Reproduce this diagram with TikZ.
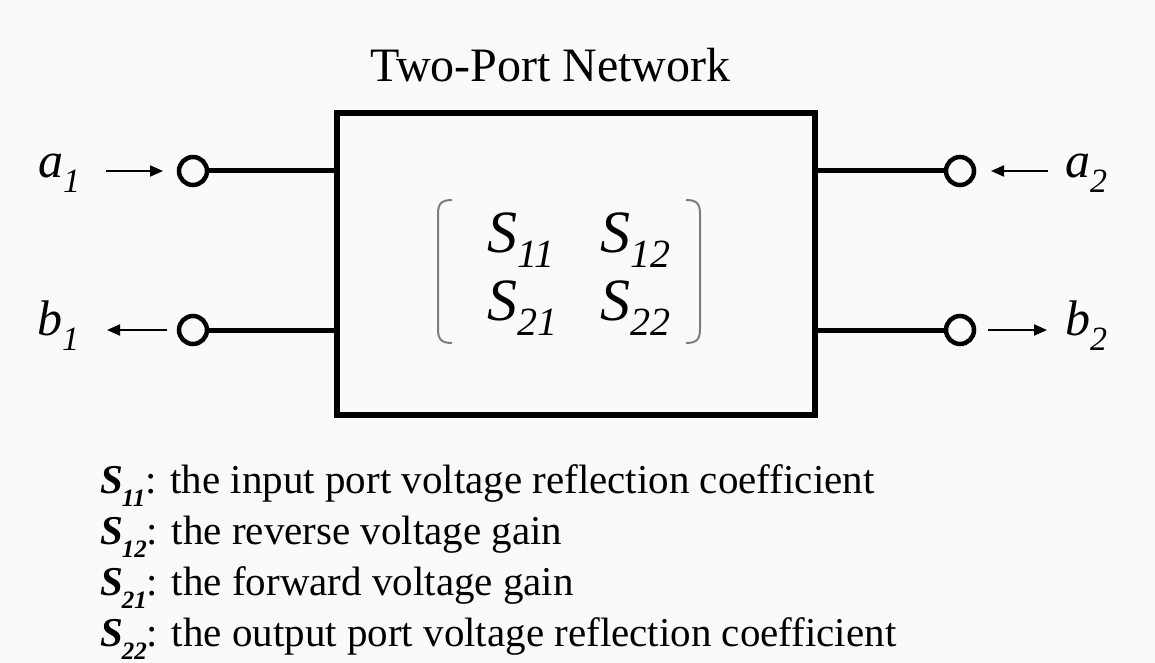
\documentclass[tikz,border=0pt]{standalone}
\usepackage{fontspec}
\setmainfont{Liberation Serif}
\usetikzlibrary{arrows.meta}
\definecolor{bgcol}{RGB}{250,250,250}
\definecolor{brkgray}{RGB}{125,125,125}
\begin{document}
\begin{tikzpicture}[x=1pt,y=-1pt,
  port/.style={circle,draw,line width=4.5pt,minimum size=28pt,inner sep=0pt,outer sep=0pt},
  wire/.style={line width=5pt},
  sig/.style={line width=2pt,-{Triangle[length=13pt,width=11pt]}},
  lbl/.style={anchor=base west,inner sep=0pt,outer sep=0pt},
  brk/.style={draw=brkgray,line width=2pt},
  netbox/.style={draw,line width=5.5pt,minimum width=478pt,minimum height=302pt,inner sep=0pt,outer sep=0pt}]
\fill[bgcol] (0,0) rectangle (1155,663);
\useasboundingbox (0,0) rectangle (1155,663);

% title
\node[lbl] (title) at (370,82) {\fontsize{48}{48}\selectfont Two-Port Network};

% network box
\node[netbox] (net) at (576,264) {};

% ports
\node[port] (c1) at (193,171) {};
\node[port] (c2) at (193,330) {};
\node[port] (c3) at (960,171) {};
\node[port] (c4) at (960,330) {};

\coordinate (w1) at (net.west |- c1);
\coordinate (w2) at (net.west |- c2);
\coordinate (w3) at (net.east |- c3);
\coordinate (w4) at (net.east |- c4);
\draw[wire] (c1) -- (w1);
\draw[wire] (c2) -- (w2);
\draw[wire] (c3) -- (w3);
\draw[wire] (c4) -- (w4);

% wave labels
\node[lbl] (la1) at (38,177) {\fontsize{50}{50}\selectfont\textit{a}\raisebox{-15pt}{\fontsize{34}{34}\selectfont\textit{1}}};
\node[lbl] (lb1) at (37,335) {\fontsize{50}{50}\selectfont\textit{b}\raisebox{-15pt}{\fontsize{34}{34}\selectfont\textit{1}}};
\node[lbl] (la2) at (1065,177) {\fontsize{50}{50}\selectfont\textit{a}\raisebox{-15pt}{\fontsize{34}{34}\selectfont\textit{2}}};
\node[lbl] (lb2) at (1065,335) {\fontsize{50}{50}\selectfont\textit{b}\raisebox{-15pt}{\fontsize{34}{34}\selectfont\textit{2}}};

% signal arrows
\coordinate (a1s) at (106,171); \coordinate (a1e) at (163,171);
\coordinate (b1s) at (167,330); \coordinate (b1e) at (107,330);
\coordinate (a2s) at (1048,171); \coordinate (a2e) at (991,171);
\coordinate (b2s) at (988,330); \coordinate (b2e) at (1047,330);
\draw[sig] (a1s) -- (a1e);
\draw[sig] (b1s) -- (b1e);
\draw[sig] (a2s) -- (a2e);
\draw[sig] (b2s) -- (b2e);

% matrix
\node[lbl] (s11) at (487,252) {\fontsize{60}{60}\selectfont\textit{S}\raisebox{-15pt}{\fontsize{40}{40}\selectfont\textit{11}}};
\node[lbl] (s12) at (600,252) {\fontsize{60}{60}\selectfont\textit{S}\raisebox{-15pt}{\fontsize{40}{40}\selectfont\textit{12}}};
\node[lbl] (s21) at (487,320) {\fontsize{60}{60}\selectfont\textit{S}\raisebox{-15pt}{\fontsize{40}{40}\selectfont\textit{21}}};
\node[lbl] (s22) at (600,320) {\fontsize{60}{60}\selectfont\textit{S}\raisebox{-15pt}{\fontsize{40}{40}\selectfont\textit{22}}};
\draw[brk] (452,200) .. controls (441,200) and (438,204) .. (438,214) -- (438,329) .. controls (438,339) and (441,343) .. (452,343);
\draw[brk] (686,200) .. controls (697,200) and (700,204) .. (700,214) -- (700,329) .. controls (700,339) and (697,343) .. (686,343);

% definitions
\newcommand{\Sdef}[1]{{\bfseries\itshape S}\kern-1pt\raisebox{-13pt}{\fontsize{25}{25}\selectfont\bfseries\itshape #1}}
\node[lbl] (d1) at (100,493) {\fontsize{41}{41}\selectfont\Sdef{11}: the input port voltage reflection coefficient};
\node[lbl] (d2) at (100,544) {\fontsize{41}{41}\selectfont\Sdef{12}: the reverse voltage gain};
\node[lbl] (d3) at (100,595) {\fontsize{41}{41}\selectfont\Sdef{21}: the forward voltage gain};
\node[lbl] (d4) at (100,646) {\fontsize{41}{41}\selectfont\Sdef{22}: the output port voltage reflection coefficient};
\end{tikzpicture}
\end{document}
